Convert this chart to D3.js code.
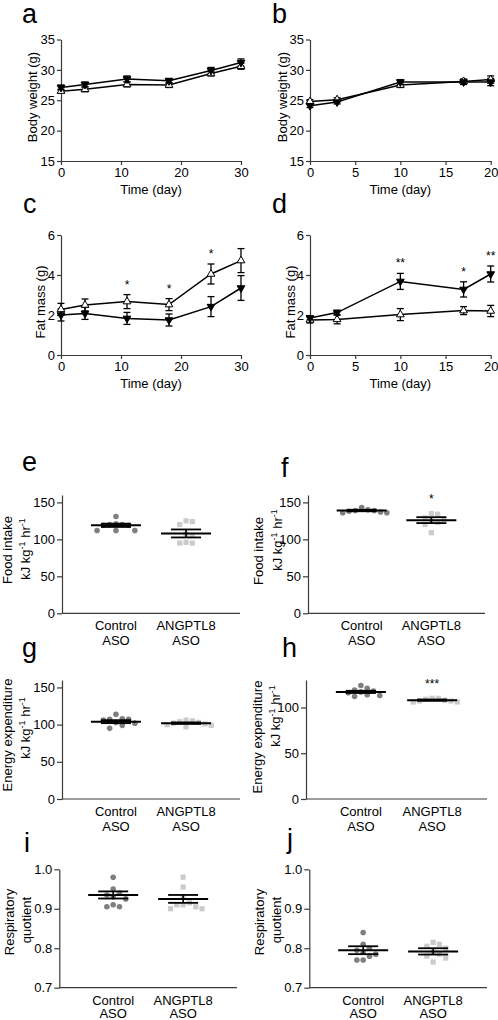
<!DOCTYPE html>
<html><head><meta charset="utf-8">
<script src="https://cdn.jsdelivr.net/npm/d3@7"></script>
<style>
body{margin:0;background:#fff}
svg{display:block}
text{font-family:"Liberation Sans",Arial,Helvetica,sans-serif;fill:#000}
</style>
</head><body>
<svg id="fig" width="498" height="1020"></svg>
<script>
// ---------- DATA ----------
// Panel a: body weight, 30 days
const daysA = [0, 4, 11, 18, 25, 30];
const bwA_closed = [27.1, 27.6, 28.5, 28.2, 29.9, 31.2];
const bwA_closedErr = [0.4, 0.4, 0.5, 0.4, 0.5, 0.6];
const bwA_open = [26.5, 26.8, 27.6, 27.5, 29.4, 30.6];
const bwA_openErr = [0.3, 0.4, 0.4, 0.4, 0.4, 0.5];
// Panel b: body weight, 20 days
const daysB = [0, 3, 10, 17, 20];
const bwB_closed = [24.1, 24.7, 28.0, 28.0, 28.0];
const bwB_closedErr = [0.3, 0.3, 0.4, 0.4, 0.6];
const bwB_open = [24.8, 25.1, 27.5, 28.1, 28.4];
const bwB_openErr = [0.3, 0.3, 0.4, 0.4, 0.6];
// Panel c: fat mass, 30 days
const fmC_closed = [2.0, 2.08, 1.83, 1.75, 2.42, 3.35];
const fmC_closedErr = [0.3, 0.3, 0.3, 0.3, 0.5, 0.62];
const fmC_open = [2.28, 2.5, 2.67, 2.52, 4.05, 4.72];
const fmC_openErr = [0.3, 0.3, 0.35, 0.3, 0.5, 0.6];
const starsC = ["", "", "*", "*", "*", ""];
// Panel d: fat mass, 20 days
const fmD_closed = [1.85, 2.12, 3.68, 3.28, 4.05];
const fmD_closedErr = [0.1, 0.12, 0.4, 0.38, 0.4];
const fmD_open = [1.75, 1.78, 2.02, 2.22, 2.2];
const fmD_openErr = [0.15, 0.22, 0.3, 0.2, 0.28];
const starsD = ["", "", "**", "*", "**"];

// Scatter panels
const groups = ["Control", "ANGPTL8"];
const groupLabels = [["Control", "ASO"], ["ANGPTL8", "ASO"]];
// e: food intake (left)
const eCtrl = [131, 121, 120, 120, 119, 119, 112, 112, 112];
const eAng = [125, 124, 120, 107, 105, 96, 95, 95];
const eMean = [119, 108];
const eSem = [2.2, 5.4];
// f: food intake (right)
const fCtrl = [143, 140, 139, 139, 138, 137, 136, 136];
const fAng = [135, 134, 129, 127, 125, 123, 120, 109];
const fMean = [139, 126];
const fSem = [1.0, 4.0];
const fStars = ["", "*"];
// g: energy expenditure (left)
const gCtrl = [114, 108, 107, 107, 106, 103, 102, 99, 95];
const gAng = [106, 105, 104, 103, 102, 101, 100, 99, 97];
const gMean = [104, 102];
const gSem = [2.0, 1.0];
// h: energy expenditure (right)
const hCtrl = [124, 121, 119, 118, 117, 116, 114, 113, 112];
const hAng = [110, 110, 109, 108, 107, 107, 106, 106];
const hMean = [117, 108];
const hSem = [1.2, 0.7];
const hStars = ["", "***"];
// i: respiratory quotient (left)
const iCtrl = [0.98, 0.95, 0.94, 0.935, 0.93, 0.925, 0.91, 0.905, 0.905];
const iAng = [0.98, 0.955, 0.93, 0.915, 0.91, 0.91, 0.905, 0.9, 0.9];
const iMean = [0.935, 0.925];
const iSem = [0.009, 0.01];
// j: respiratory quotient (right)
const jCtrl = [0.84, 0.81, 0.80, 0.795, 0.79, 0.785, 0.78, 0.77, 0.77];
const jAng = [0.815, 0.81, 0.805, 0.80, 0.79, 0.785, 0.78, 0.775, 0.765];
const jMean = [0.795, 0.792];
const jSem = [0.01, 0.008];

// ---------- DRAWING ----------
const svg = d3.select("#fig");
const AX = "#3a3a3a";
const fmtInt = d3.format("d"), fmtRQ = d3.format(".1f");

function styleAxis(g) {
  g.select(".domain").attr("stroke", AX).attr("stroke-width", 1.2);
  g.selectAll(".tick line").attr("stroke", AX).attr("stroke-width", 1.2);
  g.selectAll(".tick text").attr("font-size", 13).attr("fill", "#000");
}

function panelLabel(t, x, y) {
  svg.append("text").attr("x", x).attr("y", y).attr("font-size", 27).text(t);
}

function yTitle(lines) {
  lines.forEach(l => {
    const t = svg.append("text")
      .attr("transform", `translate(${l.x},${l.y}) rotate(-90)`)
      .attr("text-anchor", "middle").attr("font-size", 13);
    if (l.sup) {
      t.append("tspan").text("kJ kg");
      t.append("tspan").attr("dy", -5).attr("font-size", 9).text("-1");
      t.append("tspan").attr("dy", 5).text(" hr");
      t.append("tspan").attr("dy", -5).attr("font-size", 9).text("-1");
    } else {
      t.text(l.text);
    }
  });
}

function lineChart(o) {
  const x = d3.scaleLinear().domain(o.xDomain).range([o.left, o.right]);
  const y = d3.scaleLinear().domain(o.yDomain).range([o.bottom, o.top]);
  svg.append("g").attr("transform", `translate(0,${o.bottom})`)
    .call(d3.axisBottom(x).tickValues(o.xTicks).tickFormat(fmtInt).tickSize(4).tickSizeOuter(0).tickPadding(3))
    .call(styleAxis);
  svg.append("g").attr("transform", `translate(${o.left},0)`)
    .call(d3.axisLeft(y).tickValues(o.yTicks).tickFormat(fmtInt).tickSize(4).tickSizeOuter(0).tickPadding(2))
    .call(styleAxis);
  svg.append("text").attr("x", (o.left + o.right) / 2).attr("y", o.bottom + 33)
    .attr("text-anchor", "middle").attr("font-size", 13).text("Time (day)");
  yTitle([{ text: o.ytitle, x: o.ytx, y: o.yty }]);

  const line = d3.line().x((d, i) => x(o.days[i])).y(d => y(d));
  o.series.forEach(s => {
    const g = svg.append("g");
    s.v.forEach((v, i) => {
      const cx = x(o.days[i]), y1 = y(v - s.e[i]), y2 = y(v + s.e[i]);
      g.append("line").attr("x1", cx).attr("x2", cx).attr("y1", y1).attr("y2", y2).attr("stroke", "#000").attr("stroke-width", 1.3);
      [y1, y2].forEach(yy => g.append("line").attr("x1", cx - 3.5).attr("x2", cx + 3.5).attr("y1", yy).attr("y2", yy).attr("stroke", "#000").attr("stroke-width", 1.3));
    });
  });
  o.series.forEach(s => {
    svg.append("path").datum(s.v).attr("d", line).attr("fill", "none").attr("stroke", "#000").attr("stroke-width", 1.5);
  });
  const sym = d3.symbol(d3.symbolTriangle).size(26);
  o.series.forEach(s => {
    s.v.forEach((v, i) => {
      svg.append("path").attr("d", sym())
        .attr("transform", `translate(${x(o.days[i])},${y(v)}) rotate(${s.closed ? 180 : 0})`)
        .attr("fill", s.closed ? "#000" : "#fff").attr("stroke", "#000").attr("stroke-width", 1);
    });
  });
  o.stars.forEach((st, i) => {
    if (!st) return;
    const top = d3.max(o.series, s => s.v[i] + s.e[i]);
    svg.append("text").attr("x", x(o.days[i])).attr("y", y(top) - 6)
      .attr("text-anchor", "middle").attr("font-size", 12).text(st);
  });
}

function beeswarm(vals, cx, y, r) {
  const placed = [];
  const order = vals.map((v, i) => i).sort((a, b) => vals[b] - vals[a]);
  const step = 2 * r + 0.9;
  order.forEach(i => {
    const py = y(vals[i]);
    for (let k = 0; k < 40; k++) {
      const off = (k === 0 ? 0 : Math.ceil(k / 2) * (k % 2 ? 1 : -1)) * step;
      const px = cx + off;
      if (placed.every(p => Math.hypot(p.x - px, p.y - py) >= step - 0.1)) {
        placed.push({ x: px, y: py });
        break;
      }
    }
  });
  return placed;
}

function scatter(o) {
  const x = d3.scalePoint().domain(groups).range([o.left, o.right]).padding(0.77);
  const y = d3.scaleLinear().domain(o.yDomain).range([o.bottom, o.top]);
  svg.append("line").attr("x1", o.left).attr("x2", o.right).attr("y1", o.bottom).attr("y2", o.bottom)
    .attr("stroke", AX).attr("stroke-width", 1.2);
  svg.append("g").attr("transform", `translate(${o.left},0)`)
    .call(d3.axisLeft(y).tickValues(o.yTicks).tickFormat(o.fmt).tickSize(5).tickSizeOuter(0).tickPadding(2))
    .call(styleAxis);
  groups.forEach((gname, gi) => {
    const t = svg.append("text").attr("text-anchor", "middle").attr("font-size", 13);
    groupLabels[gi].forEach((s, li) => {
      t.append("tspan").attr("x", x(gname)).attr("y", o.bottom + 17 + li * o.lineGap).text(s);
    });
  });
  yTitle(o.ytitles);
  const data = [o.ctrl, o.ang];
  data.forEach((vals, gi) => {
    const cx = x(groups[gi]);
    const pts = beeswarm(vals, cx, y, 2.7);
    pts.forEach(p => {
      if (gi === 0) {
        svg.append("circle").attr("cx", p.x).attr("cy", p.y).attr("r", 2.8).attr("fill", "#7f7f7f");
      } else {
        svg.append("rect").attr("x", p.x - 2.6).attr("y", p.y - 2.6).attr("width", 5.2).attr("height", 5.2).attr("fill", "#cbcbcb");
      }
    });
  });
  groups.forEach((gname, gi) => {
    const cx = x(gname), m = o.mean[gi], s = o.sem[gi];
    svg.append("line").attr("x1", cx - 25).attr("x2", cx + 25).attr("y1", y(m)).attr("y2", y(m)).attr("stroke", "#000").attr("stroke-width", 2);
    svg.append("line").attr("x1", cx).attr("x2", cx).attr("y1", y(m - s)).attr("y2", y(m + s)).attr("stroke", "#000").attr("stroke-width", 1.6);
    [m - s, m + s].forEach(v => svg.append("line").attr("x1", cx - 15).attr("x2", cx + 15).attr("y1", y(v)).attr("y2", y(v)).attr("stroke", "#000").attr("stroke-width", 1.8));
    if (o.stars && o.stars[gi]) {
      const vals = gi === 0 ? o.ctrl : o.ang;
      svg.append("text").attr("x", cx).attr("y", y(d3.max(vals)) - 10)
        .attr("text-anchor", "middle").attr("font-size", 12).text(o.stars[gi]);
    }
  });
}

// ---- panels a-d ----
panelLabel("a", 22, 23);
lineChart({ left: 61, right: 241, top: 39.5, bottom: 161, xDomain: [0, 30], xTicks: [0, 10, 20, 30],
  yDomain: [15, 35], yTicks: [15, 20, 25, 30, 35], days: daysA, ytitle: "Body weight (g)", ytx: 37, yty: 97,
  series: [{ v: bwA_open, e: bwA_openErr, closed: false }, { v: bwA_closed, e: bwA_closedErr, closed: true }], stars: [] });
panelLabel("b", 272, 23);
lineChart({ left: 310, right: 490.7, top: 39.5, bottom: 161, xDomain: [0, 20], xTicks: [0, 5, 10, 15, 20],
  yDomain: [15, 35], yTicks: [15, 20, 25, 30, 35], days: daysB, ytitle: "Body weight (g)", ytx: 287, yty: 97,
  series: [{ v: bwB_open, e: bwB_openErr, closed: false }, { v: bwB_closed, e: bwB_closedErr, closed: true }], stars: [] });
panelLabel("c", 23, 213);
lineChart({ left: 61, right: 241, top: 235, bottom: 355, xDomain: [0, 30], xTicks: [0, 10, 20, 30],
  yDomain: [0, 6], yTicks: [0, 2, 4, 6], days: daysA, ytitle: "Fat mass (g)", ytx: 45, yty: 302,
  series: [{ v: fmC_open, e: fmC_openErr, closed: false }, { v: fmC_closed, e: fmC_closedErr, closed: true }], stars: starsC });
panelLabel("d", 272, 213);
lineChart({ left: 310, right: 490.7, top: 235, bottom: 355, xDomain: [0, 20], xTicks: [0, 5, 10, 15, 20],
  yDomain: [0, 6], yTicks: [0, 2, 4, 6], days: daysB, ytitle: "Fat mass (g)", ytx: 295, yty: 302,
  series: [{ v: fmD_open, e: fmD_openErr, closed: false }, { v: fmD_closed, e: fmD_closedErr, closed: true }], stars: starsD });

// ---- panels e-j ----
panelLabel("e", 22, 471);
scatter({ left: 62, right: 240, top: 495, bottom: 613.3, yDomain: [0, 160], yTicks: [0, 50, 100, 150], fmt: fmtInt,
  ctrl: eCtrl, ang: eAng, mean: eMean, sem: eSem, lineGap: 15,
  ytitles: [{ text: "Food  intake", x: 12, y: 550 }, { sup: true, x: 30, y: 549 }] });
panelLabel("f", 281, 477);
scatter({ left: 308, right: 485, top: 495, bottom: 613.3, yDomain: [0, 160], yTicks: [0, 50, 100, 150], fmt: fmtInt,
  ctrl: fCtrl, ang: fAng, mean: fMean, sem: fSem, stars: fStars, lineGap: 15,
  ytitles: [{ text: "Food  intake", x: 263, y: 551 }, { sup: true, x: 282, y: 540 }] });
panelLabel("g", 22, 657);
scatter({ left: 62, right: 240, top: 680, bottom: 799, yDomain: [0, 160], yTicks: [0, 50, 100, 150], fmt: fmtInt,
  ctrl: gCtrl, ang: gAng, mean: gMean, sem: gSem, lineGap: 15,
  ytitles: [{ text: "Energy expenditure", x: 12, y: 735 }, { sup: true, x: 30, y: 728 }] });
panelLabel("h", 282, 657);
scatter({ left: 306, right: 487, top: 680, bottom: 799, yDomain: [0, 130], yTicks: [0, 50, 100], fmt: fmtInt,
  ctrl: hCtrl, ang: hAng, mean: hMean, sem: hSem, stars: hStars, lineGap: 15,
  ytitles: [{ text: "Energy expenditure", x: 262, y: 737 }, { sup: true, x: 280, y: 716 }] });
panelLabel("i", 24, 852);
scatter({ left: 59.3, right: 237, top: 869.3, bottom: 987.7, yDomain: [0.7, 1.0], yTicks: [0.7, 0.8, 0.9, 1.0], fmt: fmtRQ,
  ctrl: iCtrl, ang: iAng, mean: iMean, sem: iSem, lineGap: 13,
  ytitles: [{ text: "Respiratory", x: 14, y: 922 }, { text: "quotient", x: 31, y: 920 }] });
panelLabel("j", 287, 848);
scatter({ left: 309.3, right: 487, top: 869.3, bottom: 987.7, yDomain: [0.7, 1.0], yTicks: [0.7, 0.8, 0.9, 1.0], fmt: fmtRQ,
  ctrl: jCtrl, ang: jAng, mean: jMean, sem: jSem, lineGap: 13,
  ytitles: [{ text: "Respiratory", x: 264, y: 922 }, { text: "quotient", x: 281, y: 920 }] });
</script>
</body></html>
